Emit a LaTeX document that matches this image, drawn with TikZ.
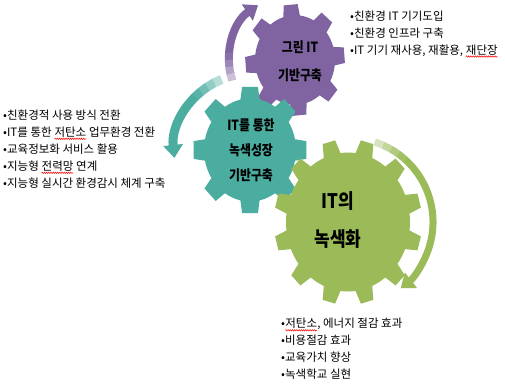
\documentclass[tikz,border=0pt]{standalone}
\usepackage{fontspec}
\setmainfont{Noto Sans CJK KR}
\usepackage{graphicx}
\usetikzlibrary{arrows.meta,decorations.pathmorphing}

\definecolor{gpurple}{HTML}{8064A2}
\definecolor{gteal}{HTML}{4BACA0}
\definecolor{ggreen}{HTML}{9BBB59}

% cx, cy, teeth, inner r, outer r, offset, base half angle, tip half angle, colour
\newcommand{\geardraw}[9]{%
  \fill[#9, shift={(#1,#2)}, yscale=1.12] ({#6-#7}:#4)
    \foreach \k in {1,...,#3} {
      -- ({#6+(\k-1)*360/#3-#8}:#5) -- ({#6+(\k-1)*360/#3+#8}:#5)
      -- ({#6+(\k-1)*360/#3+#7}:#4)
      arc[start angle={#6+(\k-1)*360/#3+#7}, end angle={#6+\k*360/#3-#7}, radius=#4]
    } -- cycle;}

% fading tail: centre, radius, start angle, step (signed), line width
\newcommand{\fadetail}[5]{%
  \foreach \o [count=\j] in {0.6,0.4,0.22,0.08} {
    \draw[white, opacity=\o, line width=#5]
      ([shift={({#3+(\j-1)*#4}:#2)}]#1) arc[start angle={#3+(\j-1)*#4}, end angle={#3+\j*#4}, radius=#2];
  }}

\newcommand{\redwave}[1]{\tikz[baseline=0pt]{\node[anchor=base, inner sep=0pt, outer sep=0pt, align=left] (wv) at (0,0) {#1};
  \draw[red, line width=0.5pt, decorate, decoration={zigzag, amplitude=0.7pt, segment length=2.2pt}] ([yshift=-2.5pt]wv.base west) -- ([yshift=-2.5pt]wv.base east);}}

\tikzset{
  geartext/.style={align=center, text=black, inner sep=0pt},
  bullets/.style={align=left, text=black, inner sep=0pt, anchor=west,
    font=\fontsize{11.5}{17}\selectfont},
  turnarrow/.style={line width=#1, -{Triangle[width=19pt,length=13pt]}},
}

\begin{document}
\begin{tikzpicture}[x=1pt,y=1pt]
\fill[white] (0,0) rectangle (505,388);
\useasboundingbox (0,0) rectangle (505,388);

% gears
\geardraw{295}{328}{8}{40}{50}{95}{12}{8}{gpurple}
\geardraw{250}{238}{8}{46}{57}{90}{12}{8}{gteal}
\geardraw{348}{166}{12}{62}{74}{75}{8}{5}{ggreen}

% turning arrows
\coordinate (pc) at (295,328);
\coordinate (tc) at (250,238);
\coordinate (gc) at (349,166);
\draw[turnarrow=8pt, gpurple] ([shift={(198:66)}]pc) arc[start angle=198, end angle=124, radius=66];
\fadetail{pc}{66}{198}{-6}{8.4pt}
\draw[turnarrow=9pt, gteal] ([shift={(112:76)}]tc) arc[start angle=112, end angle=186, radius=76];
\fadetail{tc}{76}{112}{6}{9.4pt}
\draw[turnarrow=7pt, ggreen] ([shift={(72:84)}]gc) arc[start angle=72, end angle=-52, radius=84];
\fadetail{gc}{84}{72}{-6}{7.4pt}

% gear labels
\node[geartext, xscale=0.85, font=\bfseries\fontsize{14}{28}\selectfont] (tpurple) at (300,327) {그린 IT\\기반구축};
\node[geartext, xscale=0.85, font=\bfseries\fontsize{14}{25}\selectfont] (tteal) at (251,238) {IT를 통한\\녹색성장\\기반구축};
\node[geartext, xscale=0.85, font=\bfseries\fontsize{20}{38}\selectfont] (tgreen) at (338,168) {IT의\\녹색화};

% bullet lists
\node[bullets] (lright) at (350,354) {•친환경 IT 기기도입\\•친환경 인프라 구축\\•IT 기기 재사용, 재활용, \redwave{재단장}};
\node[bullets] (lleft) at (3,239) {•친환경적 사용 방식 전환\\•IT를 통한 \redwave{저탄소} 업무환경 전환\\•교육정보화 서비스 활용\\•지능형 \redwave{전력망} 연계\\•지능형 실시간 환경감시 체계 구축};
\node[bullets] (lbottom) at (281,39) {•\redwave{저탄소}, 에너지 절감 효과\\•비용절감 효과\\•교육가치 향상\\•녹색학교 실현};
\end{tikzpicture}
\end{document}
